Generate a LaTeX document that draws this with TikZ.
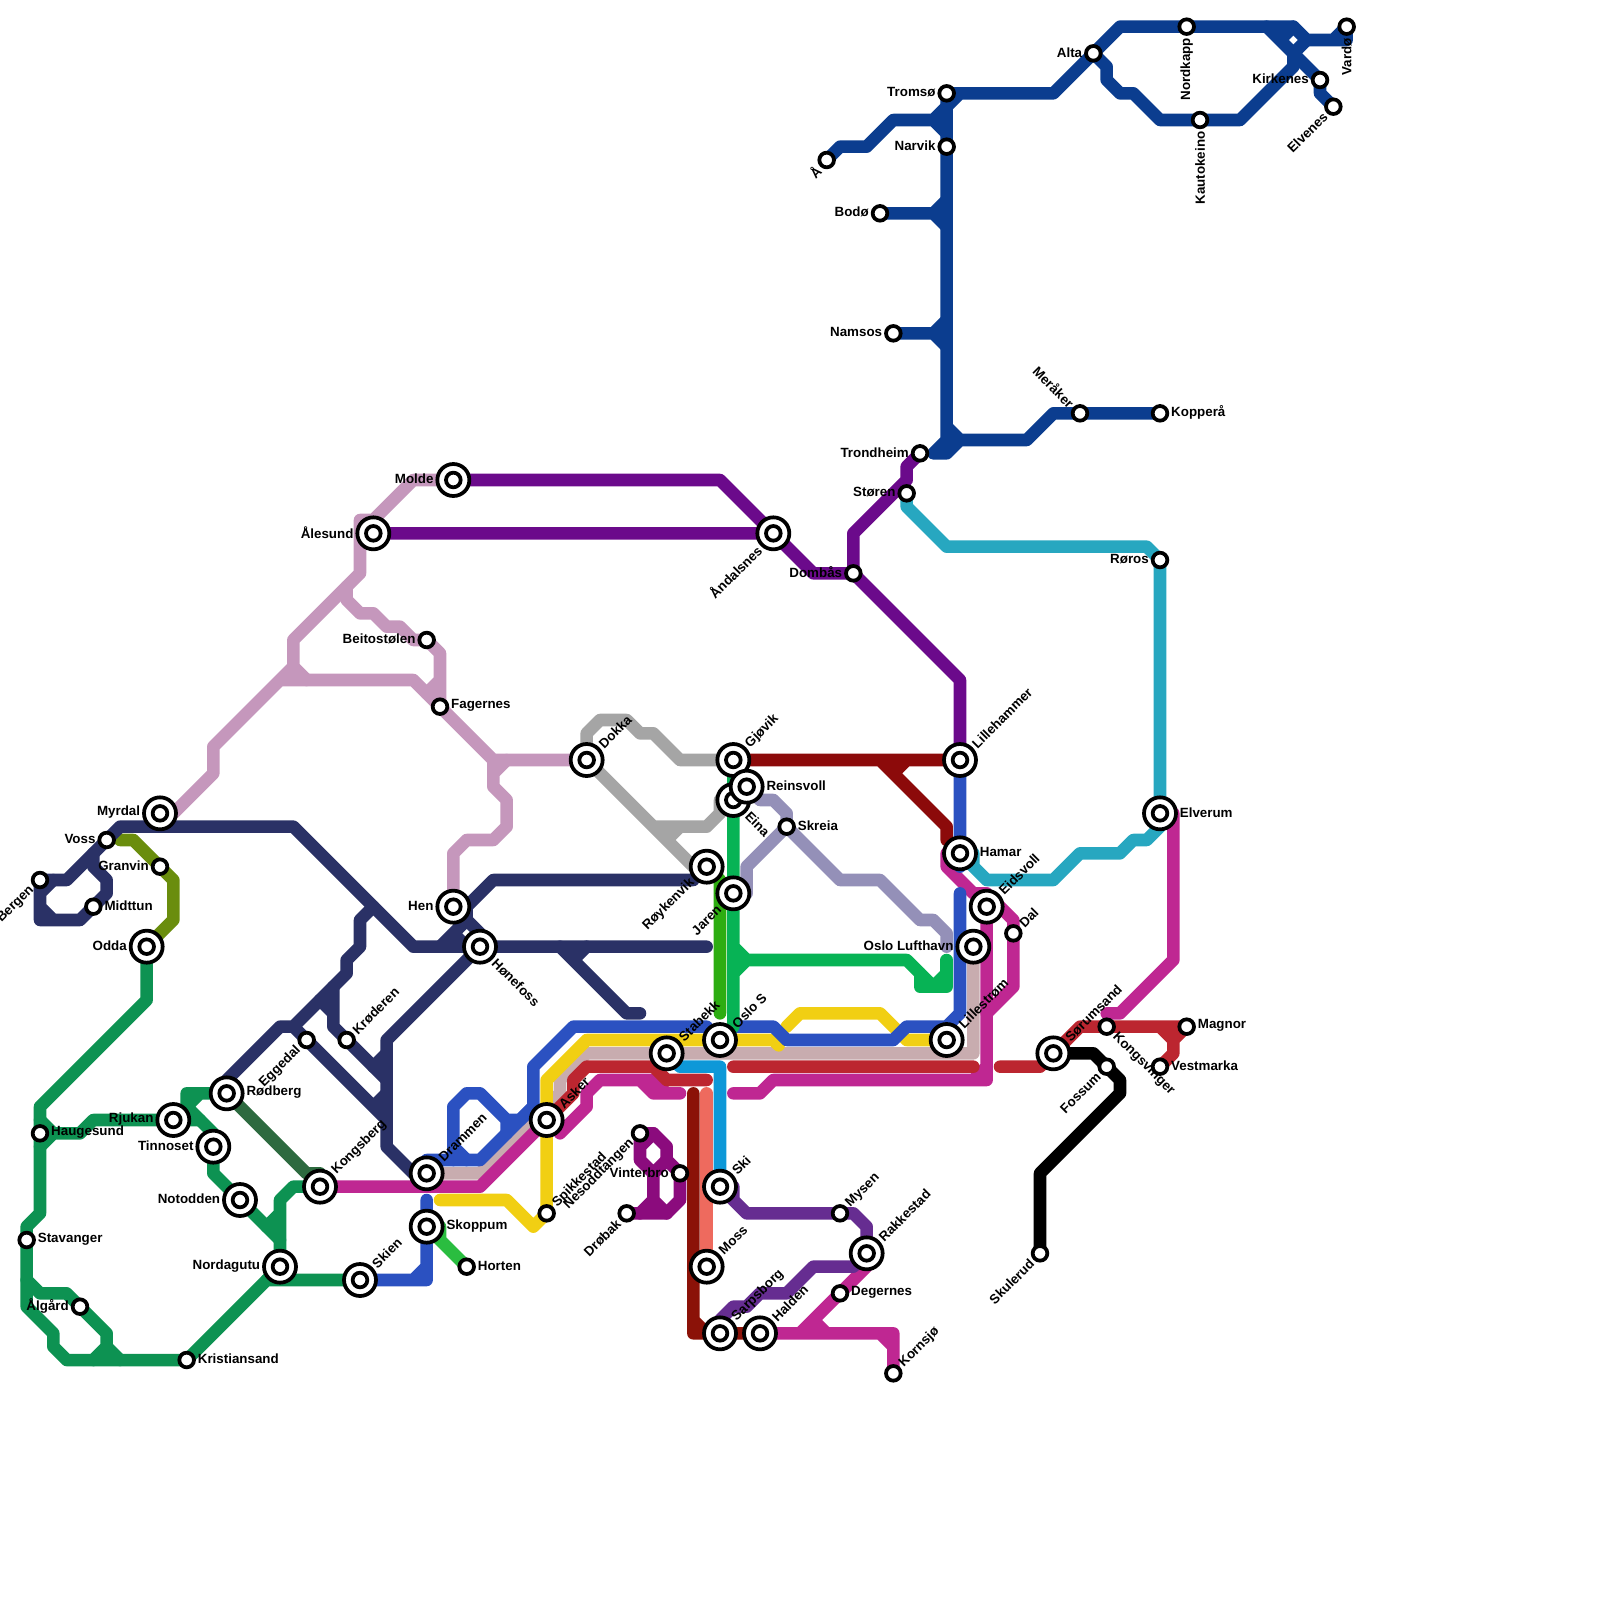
\documentclass[tikz,border=0pt]{standalone}
\usepackage{fontspec}
\setmainfont{Liberation Sans}
\usetikzlibrary{backgrounds}
\definecolor{lnnorth}{HTML}{0B3D8F}
\definecolor{lnmolde}{HTML}{6B0A8B}
\definecolor{lnmauve}{HTML}{C597BC}
\definecolor{lngrey}{HTML}{A5A5A5}
\definecolor{lndovre}{HTML}{8C0A0A}
\definecolor{lnmoss}{HTML}{8B1208}
\definecolor{lnsalmon}{HTML}{EE6A5E}
\definecolor{lnski}{HTML}{0D98D8}
\definecolor{lngreen}{HTML}{07B355}
\definecolor{lnlime}{HTML}{2DAD11}
\definecolor{lnlav}{HTML}{9490B8}
\definecolor{lnnavy}{HTML}{2A3166}
\definecolor{lnsor}{HTML}{0D9252}
\definecolor{lnnumedal}{HTML}{2D6A3F}
\definecolor{lnmag}{HTML}{BF2792}
\definecolor{lncrim}{HTML}{BC2630}
\definecolor{lnbeige}{HTML}{C8ACAF}
\definecolor{lnyellow}{HTML}{F1CF13}
\definecolor{lnblue}{HTML}{2B51C1}
\definecolor{lnteal}{HTML}{27A7C0}
\definecolor{lnnes}{HTML}{8B0B7D}
\definecolor{lnviolet}{HTML}{662D91}
\definecolor{lnolive}{HTML}{6A8D0D}
\definecolor{lnhorten}{HTML}{2ABD40}
\tikzset{
  mline/.style={line width=10.7pt,line join=round,line cap=round},
  bigst/.style={circle,draw=black,fill=white,line width=3.2pt,minimum size=9.6mm,inner sep=0pt},
  smallst/.style={circle,draw=black,fill=white,line width=3.2pt,minimum size=4.4mm,inner sep=0pt},
  lab/.style={font=\fontsize{11.4}{13}\selectfont\bfseries,inner sep=0pt,outer sep=.6mm,yshift=.3mm},
  rlab/.style={font=\fontsize{11.4}{13}\selectfont\bfseries,inner sep=0pt,outer sep=.7mm},
  le/.style={lab,at={(#1.east)},anchor=west},
  lw/.style={lab,at={(#1.west)},anchor=east},
  lne/.style={rlab,at={(#1.north east)},anchor=west,rotate=45},
  lsw/.style={rlab,at={(#1.south west)},anchor=east,rotate=45},
  lse/.style={rlab,at={(#1.south east)},anchor=west,rotate=-45},
  lnw/.style={rlab,at={(#1.north west)},anchor=east,rotate=-45},
  ls/.style={rlab,at={(#1.south)},anchor=east,rotate=90}
}
\begin{document}
\begin{tikzpicture}[x=4mm,y=-4mm]
\useasboundingbox (0,0) rectangle (120,120);
% interchange stations
\foreach \nm/\pos/\txt/\dir in {
myrdal/{12,61}/Myrdal/lw, odda/{11,71}/Odda/lw, rjukan/{13,84}/Rjukan/lw,
rodberg/{17,82}/Rødberg/le, tinnoset/{16,86}/Tinnoset/lw, notodden/{18,90}/Notodden/lw,
nordagutu/{21,95}/Nordagutu/lw, skien/{27,96}/Skien/lne, kongsberg/{24,89}/Kongsberg/lne,
drammen/{32,88}/Drammen/lne, skoppum/{32,92}/Skoppum/le, asker/{41,84}/Asker/lne,
hen/{34,68}/Hen/lw, honefoss/{36,71}/Hønefoss/lse, molde/{34,36}/Molde/lw,
alesund/{28,40}/Ålesund/lw, dokka/{44,57}/Dokka/lne, roykenvik/{53,65}/Røykenvik/lsw,
jaren/{55,67}/Jaren/lsw, gjovik/{55,57}/Gjøvik/lne, eina/{55,60}/Eina/lse,
reinsvoll/{56,59}/Reinsvoll/le, lillehammer/{72,57}/Lillehammer/lne, hamar/{72,64}/Hamar/le,
eidsvoll/{74,68}/Eidsvoll/lne, lufthavn/{73,71}/Oslo Lufthavn/lw, lillestrom/{71,78}/Lillestrøm/lne,
oslos/{54,78}/Oslo S/lne, stabekk/{50,79}/Stabekk/lne, sorumsand/{79,79}/Sørumsand/lne,
elverum/{87,61}/Elverum/le, andalsnes/{58,40}/Åndalsnes/lsw, ski/{54,89}/Ski/lne,
moss/{53,95}/Moss/lne, sarpsborg/{54,100}/Sarpsborg/lne, halden/{57,100}/Halden/lne,
rakkestad/{65,94}/Rakkestad/lne}{
  \node[bigst] (\nm) at (\pos) {};
  \node[smallst] (\nm i) at (\nm.center) {};
  \node[\dir=\nm] (l\nm) {\txt};
}
% plain stations
\foreach \nm/\pos/\txt/\dir in {
voss/{8,63}/Voss/lw, granvin/{12,65}/Granvin/lw, bergen/{3,66}/Bergen/lsw, midttun/{7,68}/Midttun/le,
haugesund/{3,85}/Haugesund/le, stavanger/{2,93}/Stavanger/le, algard/{6,98}/Ålgård/lw,
kristiansand/{14,102}/Kristiansand/le, eggedal/{23,78}/Eggedal/lsw, kroderen/{26,78}/Krøderen/lne,
horten/{35,95}/Horten/le, spikkestad/{41,91}/Spikkestad/lne, beitostolen/{32,48}/Beitostølen/lw,
fagernes/{33,53}/Fagernes/le, skreia/{59,62}/Skreia/le, dal/{76,70}/Dal/lne,
kongsvinger/{83,77}/Kongsvinger/lse, magnor/{89,77}/Magnor/le, vestmarka/{87,80}/Vestmarka/le,
fossum/{83,80}/Fossum/lsw, skulerud/{78,94}/Skulerud/lsw, roros/{87,42}/Røros/lw,
storen/{68,37}/Støren/lw, trondheim/{69,34}/Trondheim/lw, dombas/{64,43}/Dombås/lw,
mysen/{63,91}/Mysen/lne, degernes/{63,97}/Degernes/le, kornsjo/{67,103}/Kornsjø/lne,
nesodden/{48,85}/Nesoddtangen/lsw, vinterbro/{51,88}/Vinterbro/lw, drobak/{47,91}/Drøbak/lsw,
tromso/{71,7}/Tromsø/lw, narvik/{71,11}/Narvik/lw, bodo/{66,16}/Bodø/lw, namsos/{67,25}/Namsos/lw,
aa/{62,12}/Å/lsw, meraker/{81,31}/Meråker/lnw, koppera/{87,31}/Kopperå/le, alta/{82,4}/Alta/lw,
nordkapp/{89,2}/Nordkapp/ls, kautokeino/{90,9}/Kautokeino/ls, kirkenes/{99,6}/Kirkenes/lw,
elvenes/{100,8}/Elvenes/lsw, vardo/{101,2}/Vardø/ls}{
  \node[smallst] (\nm) at (\pos) {};
  \node[\dir=\nm] (l\nm) {\txt};
}
\begin{scope}[on background layer]
% south and west
\draw[mline,lnsor] (odda.center) -- (11,75) -- (3,83) -- (3,91) -- (2,92) -- (2,98) -- (4,100) -- (4,101) -- (5,102) -- (14,102) -- (20,96) -- (skien.center);
\draw[mline,lnsor] (3,84) -- (4,85) -- (3,86) (haugesund.center) -- (6,85) -- (7,84) -- (15,84);
\draw[mline,lnsor] (14,84) -- (14,82) -- (rodberg.center) (15,82) -- (14,83) -- (16,85) -- (16,88) -- (21,93);
\draw[mline,lnsor] (nordagutu.center) -- (20,96) (nordagutu.center) -- (21,90) -- (22,89) -- (kongsberg.center) (21,91) -- (20,92);
\draw[mline,lnsor] (2,96) -- (3,97) -- (5,97) -- (8,100) -- (8,101) -- (9,102) (8,101) -- (7,102);
\draw[mline,lnnumedal] (rodberg.center) -- (23,88) -- (24,88) -- (kongsberg.center);
\draw[mline,lnolive] (9,63) -- (10,63) -- (13,66) -- (13,69) -- (odda.center);
% navy
\draw[mline,lnnavy] (bergen.center) -- (5,66) -- (voss.center) -- (9,62) -- (22,62) -- (31,71) -- (53,71);
\draw[mline,lnnavy] (bergen.center) -- (3,69) -- (6,69) -- (8,67) -- (8,66) -- (7,65) -- (7,64) (3,67) -- (4,66) (3,68) -- (4,69);
\draw[mline,lnnavy] (33,71) -- (35,69) -- (35,68) -- (37,66) -- (52,66) (35,69) -- (37,71) (34,70) -- (35,71);
\draw[mline,lnnavy] (honefoss.center) -- (29,78) -- (29,86) -- (31,88) -- (drammen.center);
\draw[mline,lnnavy] (42,71) -- (47,76) -- (48,76) (44,71) -- (43,72);
\draw[mline,lnnavy] (28,68) -- (27,69) -- (27,71) -- (26,72) -- (26,73) -- (22,77) -- (21,77) -- (17,81) -- (rodberg.center);
\draw[mline,lnnavy] (25,74) -- (25,77) -- (kroderen.center) -- (29,81) (24,75) -- (25,76);
\draw[mline,lnnavy] (22,77) -- (eggedal.center) -- (29,84) (29,79) -- (28,80) (29,82) -- (28,83);
% mauve and grey
\draw[mline,lnmauve] (molde.center) -- (31,36) -- (28,39) -- (27,39) -- (27,43) -- (22,48) -- (22,50) -- (23,51);
\draw[mline,lnmauve] (myrdal.center) -- (13,61) -- (16,58) -- (16,56) -- (21,51) -- (31,51) -- (33,53) -- (37,57) -- (dokka.center) (22,50) -- (21,51);
\draw[mline,lnmauve] (26,44) -- (26,45) -- (27,46) -- (28,46) -- (29,47) -- (30,47) -- (31,48) -- (32,48) -- (33,49) -- (33,53) (33,51) -- (32,52);
\draw[mline,lnmauve] (38,57) -- (37,58) (37,57) -- (37,59) -- (38,60) -- (38,62) -- (37,63) -- (35,63) -- (34,64) -- (hen.center);
\draw[mline,lngrey] (dokka.center) -- (44,55) -- (45,54) -- (47,54) -- (48,55) -- (49,55) -- (51,57) -- (gjovik.center);
\draw[mline,lngrey] (dokka.center) -- (52,65) -- (roykenvik.center) (49,62) -- (53,62) -- (54,61) -- (54,60) -- (55,59) (51,62) -- (50,63);
% molde, dovre
\draw[mline,lnmolde] (molde.center) -- (54,36) -- (58,40) -- (61,43) -- (dombas.center) -- (72,51) -- (lillehammer.center);
\draw[mline,lnmolde] (alesund.center) -- (andalsnes.center) (trondheim.center) -- (68,35) -- (68,36) -- (64,40) -- (dombas.center);
\draw[mline,lndovre] (gjovik.center) -- (lillehammer.center) (66,57) -- (71,62) -- (71,63) (68,57) -- (67,58);
% north
\draw[mline,lnnorth] (aa.center) -- (63,11) -- (65,11) -- (67,9) -- (70,9) -- (71,8) (70,9) -- (71,10);
\draw[mline,lnnorth] (tromso.center) -- (71,34) -- (70,34) -- (71,33) (71,34) -- (72,33) (71,32) -- (72,33) -- (77,33) -- (79,31) -- (koppera.center);
\draw[mline,lnnorth] (bodo.center) -- (70,16) -- (71,15) (70,16) -- (71,17) (namsos.center) -- (70,25) -- (71,24) (70,25) -- (71,26);
\draw[mline,lnnorth] (71,8) -- (72,7) (tromso.center) -- (79,7) -- (84,2) -- (97,2) -- (98,3) -- (100,3) -- (vardo.center) -- (101,3) -- (100,3);
\draw[mline,lnnorth] (95,2) -- (kirkenes.center) -- (99,7) -- (elvenes.center) (96,3) -- (97,2);
\draw[mline,lnnorth] (alta.center) -- (83,5) -- (83,6) -- (84,7) -- (85,7) -- (87,9) -- (93,9) -- (97,5) -- (97,4) -- (98,3);
% east
\draw[mline,lnteal] (storen.center) -- (68,38) -- (71,41) -- (86,41) -- (roros.center) -- (87,62) -- (86,63) -- (85,63) -- (84,64) -- (81,64) -- (79,66) -- (74,66) -- (73,65) -- (73,64) -- (hamar.center) (hamar.center) -- (74,66);
\draw[mline,lnbeige] (drammen.center) -- (36,88) -- (41,83) -- (42,82) -- (42,81) -- (44,79) -- (73,79) -- (lufthavn.center);
\draw[mline,lnyellow] (spikkestad.center) -- (41,81) -- (44,78) -- (58,78) -- (58.4,78.4);
\draw[mline,lnyellow] (59,77) -- (60,76) -- (66,76) -- (68,78) -- (lillestrom.center);
\draw[mline,lnyellow] (33,90) -- (38,90) -- (40,92) -- (spikkestad.center);
\draw[mline,lnmag] (kongsberg.center) -- (36,89) -- (asker.center);
\draw[mline,lnmag] (42,85) -- (44,83) -- (44,82) -- (45,81) -- (49,81) -- (50,82) -- (51,82) (48,81) -- (49,82) -- (50,82);
\draw[mline,lnmag] (55,82) -- (57,82) -- (58,81) -- (74,81) -- (eidsvoll.center) (73,81) -- (74,80);
\draw[mline,lnmag] (hamar.center) -- (71,64) -- (71,65) -- (73,67) -- (74,67) -- (76,69) -- (76,74) -- (74,76);
\draw[mline,lnmag] (elverum.center) -- (88,61) -- (88,72) -- (84,76) -- (83,76);
\draw[mline,lnmag] (halden.center) -- (67,100) -- (kornsjo.center) (66,100) -- (67,101) (rakkestad.center) -- (65,95) -- (60,100) (61,99) -- (62,100);
\draw[mline,lncrim] (asker.center) -- (43,82) -- (43,81) -- (44,80) -- (49,80) -- (50,81) -- (53,81);
\draw[mline,lncrim] (55,80) -- (73,80) (75,80) -- (78,80) -- (sorumsand.center) -- (81,77) -- (magnor.center) -- (88,78) -- (88,79) -- (vestmarka.center) (87,77) -- (88,78);
\draw[mline,lnblue] (lillehammer.center) -- (72,65) (72,67) -- (72,76) -- (71,77) -- (68,77) -- (67,78) -- (59,78) -- (58,77) -- (55,77) -- (oslos.center);
\draw[mline,lnblue] (53,77) -- (43,77) -- (40,80) -- (40,83) -- (38,85) -- (36,87) -- (32,87) -- (drammen.center);
\draw[mline,lnblue] (40,83) -- (39,84) -- (38,84) -- (36,82) -- (35,82) -- (34,83) -- (34,87) (38,84) -- (38,85) (34,86) -- (35,87);
\draw[mline,lnblue] (32,90) -- (32,96) -- (skien.center) (31,96) -- (32,95);
\draw[mline,lnhorten] (skoppum.center) -- (33,92) -- (33,93) -- (horten.center) (skoppum.center) -- (33,93);
\draw[mline,lnski] (stabekk.center) -- (51,80) -- (54,80) -- (ski.center);
\draw[mline,lnsalmon] (53,82) -- (moss.center);
\draw[mline,lnmoss] (52,82) -- (52,100) -- (halden.center) (52,99) -- (53,100);
\draw[mline,lnlime] (roykenvik.center) -- (54,66) -- (54,76);
\draw[mline,lngreen] (gjovik.center) -- (55,77) -- (oslos.center) (55,71) -- (56,72) -- (68,72) -- (70,74) -- (71,73) (55,73) -- (56,72);
\draw[mline,lngreen] (69,73) -- (69,74) -- (71,74) -- (71,72);
\draw[mline,lnlav] (reinsvoll.center) -- (57,60) -- (58,60) -- (59,61) -- (skreia.center) -- (63,66) -- (66,66) -- (69,69) -- (70,69) -- (71,70) -- (71,71);
\draw[mline,lnlav] (skreia.center) -- (56,65) -- (56,67) -- (jaren.center);
\draw[mline,lnnes] (nesodden.center) -- (49,85) -- (50,86) -- (50,87) -- (51,88) -- (51,90) -- (50,91) -- (drobak.center);
\draw[mline,lnnes] (nesodden.center) -- (48,87) -- (49,88) -- (49,90) -- (48,91) (49,85) -- (48,86) (50,87) -- (49,88) (49,90) -- (50,91);
\draw[mline,lnviolet] (ski.center) -- (56,91) -- (mysen.center) -- (64,91) -- (65,92) -- (rakkestad.center) -- (64,95) -- (61,95) -- (59,97) -- (57,97) -- (56,98) -- (55,98) -- (54,99) -- (sarpsborg.center) (55,89) -- (55,90) -- (56,91);
\draw[mline,black] (sorumsand.center) -- (82,79) -- (84,81) -- (84,82) -- (78,88) -- (skulerud.center);
\end{scope}
\end{tikzpicture}
\end{document}
